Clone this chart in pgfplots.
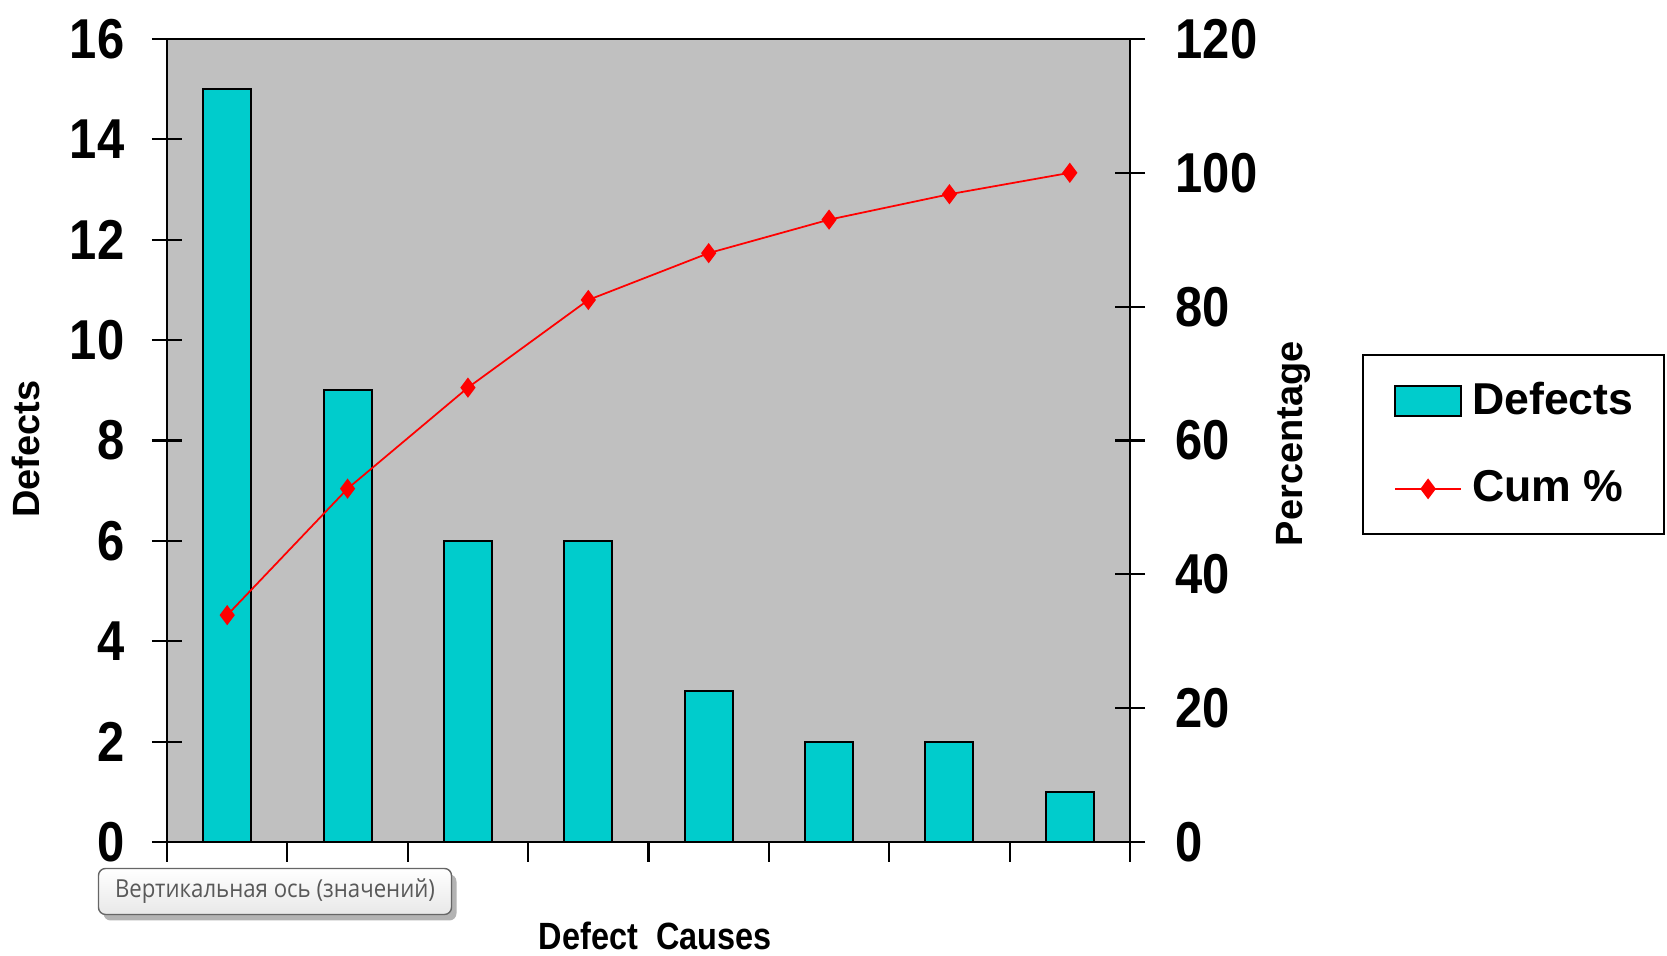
\documentclass[border=0pt]{standalone}
\usepackage{pgfplots}
\pgfplotsset{compat=1.18}
\usepackage{pgfplotstable}
\usepackage{fontspec}
\setmainfont{Liberation Sans}
\newfontfamily\tipfont{Open Sans}
\usetikzlibrary{shadows}
\definecolor{barfill}{RGB}{0,204,204}
\definecolor{plotbg}{RGB}{192,192,192}
\definecolor{cumred}{RGB}{255,0,0}

\pgfplotstableread{
x defects cum
0 15 33.9
1 9  52.8
2 6  67.9
3 6  81.0
4 3  88.0
5 2  93.0
6 2  96.8
7 1  100
}\pareto

\begin{document}
\begin{tikzpicture}
\pgfplotsset{
  common/.style={
    scale only axis, width=9.63cm, height=8.03cm,
    at={(1.67cm,1.14cm)},
    xmin=-0.5, xmax=7.5,
    /pgf/number format/assume math mode=true,
    tick label style={font=\fontsize{16}{16}\selectfont\bfseries, inner sep=0pt},
    axis line style={line width=0.6pt, black},
    tick style={line width=0.6pt, black},
  }
}
% bars, left axis
\begin{axis}[common,
  ymin=0, ymax=16, ytick={0,2,...,16},
  yticklabel={\scalebox{0.87}[1]{\pgfmathprintnumber{\tick}}},
  xtick=\empty,
  ybar, bar width=0.48cm,
  axis background/.style={fill=plotbg},
  ytick pos=left,
  tick align=center, major tick length=0.3cm,
  yticklabel style={xshift=-0.27cm},
  ylabel={Defects},
  ylabel style={at={(axis description cs:-0.146,0.489)}, anchor=center,
    font=\fontsize{10.8}{10.8}\selectfont\bfseries},
  legend cell align=left,
  legend style={at={(axis description cs:1.2409,0.6077)}, anchor=north west,
    draw=black, line width=0.6pt, fill=white,
    inner xsep=0.31cm, inner ysep=0.27cm, row sep=0.51cm,
    font=\fontsize{12.7}{12.7}\selectfont\bfseries,
    nodes={inner sep=0pt}},
]
\addplot[fill=barfill, draw=black, line width=0.6pt,
  legend image code/.code={
    \draw[fill=barfill, draw=black, line width=0.6pt] (0cm,-0.15cm) rectangle (0.66cm,0.15cm);
    \path (0.76cm,0cm);}]
  table[x=x, y=defects] {\pareto};
\addlegendentry{Defects}
\addlegendimage{legend image code/.code={
    \draw[cumred, line width=0.5pt] (0cm,0cm) -- (0.66cm,0cm);
    \fill[cumred] (0.33cm,0.087cm) -- (0.395cm,0cm) -- (0.33cm,-0.087cm) -- (0.265cm,0cm) -- cycle;
    \path (0.76cm,0cm);}}
\addlegendentry{Cum \%}
\end{axis}
% cumulative percentage, right axis
\begin{axis}[common,
  ymin=0, ymax=120, ytick={0,20,...,120},
  yticklabel={\scalebox{0.87}[1]{\pgfmathprintnumber{\tick}}},
  axis y line*=right, axis x line=none,
  tick align=center, major tick length=0.3cm,
  yticklabel style={xshift=0.3cm},
  ylabel={Percentage},
  ylabel style={at={(axis description cs:1.170,0.496)}, anchor=center,
    font=\fontsize{10.8}{10.8}\selectfont\bfseries},
]
\addplot[cumred, line width=0.5pt, mark=diamond*, mark size=0.087cm,
  mark options={fill=cumred, draw=cumred}]
  table[x=x, y=cum] {\pareto};
\end{axis}
% category ticks on the x axis
\begin{axis}[common,
  ymin=0, ymax=1,
  hide y axis, axis x line*=bottom,
  xtick={-0.5,0.5,...,7.5}, xticklabels={},
  tick align=outside, major tick length=0.2cm,
  xlabel={\scalebox{0.855}[1]{Defect~~Causes}},
  xlabel style={at={(axis description cs:0.507,-0.117)}, anchor=center,
    font=\fontsize{10.8}{10.8}\selectfont\bfseries},
]
\end{axis}
\node[draw=gray!80!black, rounded corners=2pt, top color=white, bottom color=gray!18,
  drop shadow={shadow xshift=0.05cm, shadow yshift=-0.06cm, opacity=0.6},
  minimum width=3.53cm, minimum height=0.46cm, inner sep=0pt]
  at (2.75cm,0.645cm) {\scalebox{1}[1.12]{\resizebox{3.2cm}{!}{\tipfont\color{black!65}Вертикальная ось (значений)}}};
\pgfresetboundingbox
\useasboundingbox (0,0) rectangle (16.67cm,9.56cm);
\end{tikzpicture}
\end{document}
